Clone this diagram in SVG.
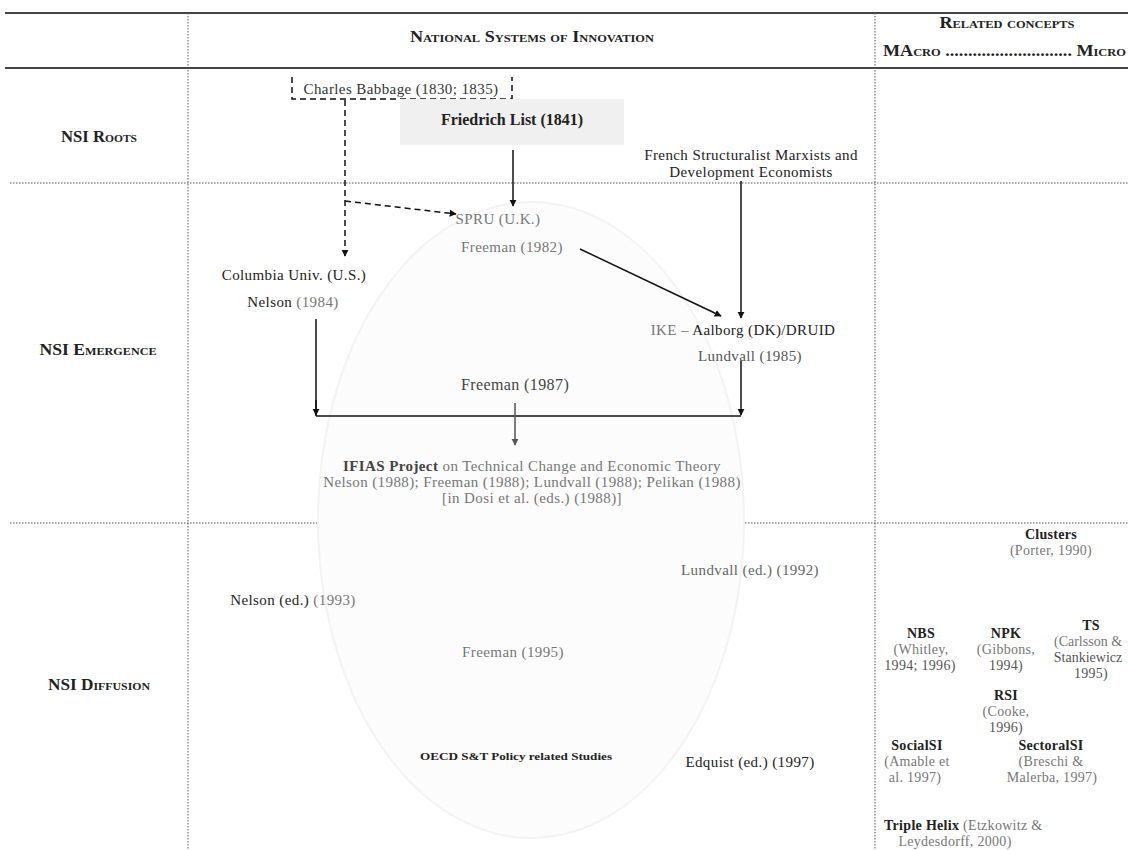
<svg xmlns="http://www.w3.org/2000/svg" width="1128" height="850" viewBox="0 0 1128 850">
<defs>
<marker id="ah" viewBox="0 0 10 10" refX="9" refY="5" markerWidth="7" markerHeight="8" orient="auto" markerUnits="userSpaceOnUse"><path d="M0,0 L10,5 L0,10 z" fill="#111"/></marker>
<marker id="ahg" viewBox="0 0 10 10" refX="9" refY="5" markerWidth="7" markerHeight="8" orient="auto" markerUnits="userSpaceOnUse"><path d="M0,0 L10,5 L0,10 z" fill="#555"/></marker>
<style>
text{font-family:"Liberation Serif","Times New Roman",serif;fill:#222}
.t{font-size:15px;letter-spacing:0.4px;text-anchor:middle}
.g{fill:#777}
.sc{font-variant:small-caps;font-weight:bold;font-size:16px;text-anchor:middle}
.b{font-weight:bold}
.r{font-size:14px;letter-spacing:0.3px;text-anchor:middle}
.thick{stroke:#444;stroke-width:2;fill:none}
.dot{stroke:#555;stroke-width:1;stroke-dasharray:1.5 1.5;fill:none}
.ln{stroke:#111;stroke-width:1.5;fill:none}
</style>
</defs>
<rect width="1128" height="850" fill="#fff"/>
<g id="grid">
<line class="thick" x1="5" y1="13" x2="1128" y2="13"/>
<line class="thick" x1="5" y1="68" x2="1128" y2="68"/>
<line class="dot" x1="188" y1="13" x2="188" y2="850"/>
<line class="dot" x1="875" y1="13" x2="875" y2="850"/>
<line class="dot" x1="10" y1="183" x2="1128" y2="183"/>
<line class="dot" x1="10" y1="523" x2="1128" y2="523"/>
</g>
<g id="ellipse"><ellipse cx="531" cy="520" rx="213" ry="318" fill="#fcfcfc" stroke="#f3f3f3" stroke-width="2"/></g>
<g id="headers">
<text class="sc" x="532" y="42" textLength="244" lengthAdjust="spacingAndGlyphs">National Systems of Innovation</text>
<text class="sc" x="1007" y="28" textLength="135" lengthAdjust="spacingAndGlyphs">Related concepts</text>
<text class="sc" x="883" y="56" style="text-anchor:start" textLength="243" lengthAdjust="spacingAndGlyphs">MAcro ............................ Micro</text>
</g>
<g id="row-labels">
<text class="sc" x="99" y="142" textLength="76" lengthAdjust="spacingAndGlyphs">NSI Roots</text>
<text class="sc" x="98" y="355" textLength="117" lengthAdjust="spacingAndGlyphs">NSI Emergence</text>
<text class="sc" x="99" y="690" textLength="102" lengthAdjust="spacingAndGlyphs">NSI Diffusion</text>
</g>
<g id="connectors">
<path d="M345,100 V256" stroke="#111" stroke-width="1.5" stroke-dasharray="6 4" fill="none" marker-end="url(#ah)"/>
<path d="M345,201 L456,214" stroke="#111" stroke-width="1.5" stroke-dasharray="6 4" fill="none" marker-end="url(#ah)"/>
<path class="ln" d="M513,150 V206" marker-end="url(#ah)"/>
<path class="ln" d="M741,181 V318" marker-end="url(#ah)"/>
<path class="ln" d="M580,249 L721,316" marker-end="url(#ah)"/>
<path class="ln" d="M316,319 V416"/>
<path class="ln" d="M316,400 V415" marker-end="url(#ah)"/>
<path class="ln" d="M741,361 V415" marker-end="url(#ah)"/>
<path class="ln" d="M316,416 H741"/>
<path d="M515,403 V445" stroke="#555" stroke-width="1.5" fill="none" marker-end="url(#ahg)"/>
</g>
<g id="babbage">
<path d="M292,77 V99 H512 V77" fill="none" stroke="#111" stroke-width="1.5" stroke-dasharray="6 4"/>
<text class="t" x="401" y="94" style="fill:#333">Charles Babbage (1830; 1835)</text>
</g>
<g id="list">
<rect x="400" y="99" width="224" height="46" fill="#f0f0f0"/>
<text class="t b" x="512" y="125" style="font-size:16px;letter-spacing:0">Friedrich List (1841)</text>
</g>
<g id="french">
<text class="t" x="751" y="160">French Structuralist Marxists and</text>
<text class="t" x="751" y="177">Development Economists</text>
</g>
<g id="spru">
<text class="t g" x="498" y="224">SPRU (U.K.)</text>
<text class="t g" x="512" y="252">Freeman (1982)</text>
</g>
<g id="columbia">
<text class="t" x="294" y="280">Columbia Univ. (U.S.)</text>
<text class="t" x="293" y="307">Nelson <tspan class="g">(1984)</tspan></text>
</g>
<g id="ike">
<text class="t" x="743" y="335"><tspan class="g">IKE – </tspan>Aalborg (DK)/DRUID</text>
<text class="t" x="750" y="361" style="fill:#555">Lundvall (1985)</text>
</g>
<g id="freeman1987"><text class="t" x="515" y="390" style="fill:#444;font-size:16px">Freeman (1987)</text></g>
<g id="ifias">
<text class="t g" x="532" y="471"><tspan style="fill:#444" font-weight="bold">IFIAS Project</tspan> on Technical Change and Economic Theory</text>
<text class="t g" x="532" y="487">Nelson (1988); Freeman (1988); Lundvall (1988); Pelikan (1988)</text>
<text class="t g" x="532" y="503">[in Dosi et al. (eds.) (1988)]</text>
</g>
<g id="diffusion">
<text class="t" x="750" y="575" style="fill:#666">Lundvall (ed.) (1992)</text>
<text class="t" x="293" y="605">Nelson (ed.) <tspan class="g">(1993)</tspan></text>
<text class="t g" x="513" y="657">Freeman (1995)</text>
<text x="516" y="760" style="font-size:11px;font-weight:bold;text-anchor:middle" textLength="192" lengthAdjust="spacingAndGlyphs">OECD S&amp;T Policy related Studies</text>
<text class="t" x="750" y="767">Edquist (ed.) (1997)</text>
</g>
<g id="clusters"><text class="r b" x="1051" y="539">Clusters</text><text class="r g" x="1051" y="555">(Porter, 1990)</text></g>
<g id="nbs"><text class="r b" x="921" y="638">NBS</text><text class="r g" x="921" y="654">(Whitley,</text><text class="r" x="920" y="670" style="fill:#555">1994; 1996)</text></g>
<g id="npk"><text class="r b" x="1006" y="638">NPK</text><text class="r g" x="1006" y="654">(Gibbons,</text><text class="r" x="1006" y="670" style="fill:#555">1994)</text></g>
<g id="ts"><text class="r b" x="1091" y="630">TS</text><text class="r g" x="1088" y="646" style="letter-spacing:0">(Carlsson &amp;</text><text class="r" x="1088" y="662" style="fill:#555;letter-spacing:0">Stankiewicz</text><text class="r" x="1091" y="678" style="fill:#555">1995)</text></g>
<g id="rsi"><text class="r b" x="1006" y="700">RSI</text><text class="r g" x="1006" y="716">(Cooke,</text><text class="r" x="1006" y="732" style="fill:#555">1996)</text></g>
<g id="socialsi"><text class="r b" x="917" y="750">SocialSI</text><text class="r g" x="917" y="766">(Amable et</text><text class="r g" x="915" y="782">al. 1997)</text></g>
<g id="sectoralsi"><text class="r b" x="1051" y="750">SectoralSI</text><text class="r g" x="1051" y="766">(Breschi &amp;</text><text class="r g" x="1052" y="782">Malerba, 1997)</text></g>
<g id="triplehelix"><text x="884" y="830" style="font-size:14px;letter-spacing:0.3px"><tspan class="b">Triple Helix</tspan><tspan class="g"> (Etzkowitz &amp;</tspan></text><text class="r g" x="955" y="846">Leydesdorff, 2000)</text></g>
</svg>
